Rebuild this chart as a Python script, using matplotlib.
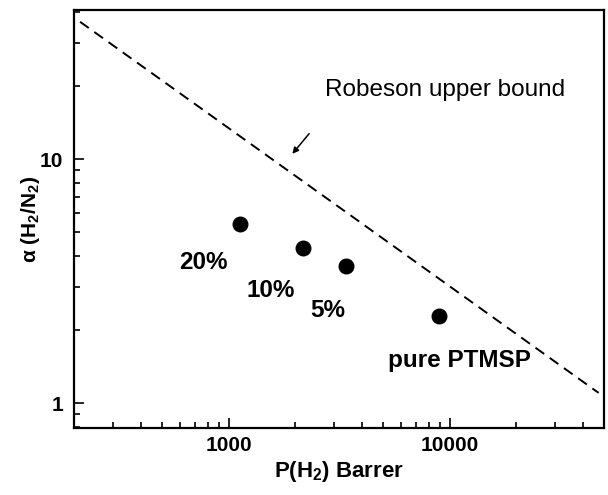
import numpy as np
import matplotlib
matplotlib.use("Agg")
import matplotlib.pyplot as plt
from matplotlib.ticker import LogLocator, FixedLocator, NullFormatter

plt.rcParams['font.family'] = ['Liberation Sans', 'DejaVu Sans']
plt.rcParams['mathtext.fontset'] = 'custom'
plt.rcParams['mathtext.rm'] = 'Liberation Sans:bold'
plt.rcParams['mathtext.it'] = 'Liberation Sans:bold'
plt.rcParams['mathtext.bf'] = 'Liberation Sans:bold'

# membrane data: H2 permeability (Barrer) and H2/N2 selectivity
perm = [1121, 2163, 3385, 8915]
alpha = [5.41, 4.32, 3.64, 2.27]

# point labels and where they sit
labels = ["20%", "10%", "5%", "pure PTMSP"]
label_x = [763, 1549, 2804, 11000]
label_y = [3.75, 2.90, 2.40, 1.50]

# Robeson upper bound, end points
bound_x = [212, 47100]
bound_y = [36.5, 1.10]

fig = plt.figure(figsize=(6.08, 4.95), dpi=100)
ax = fig.add_axes([74/608, 1-428/495, 530/608, 418/495])

ax.plot(bound_x, bound_y, ls=(0, (5.5, 3.5)), c="black", lw=1.4)
ax.scatter(perm, alpha, s=110, c="black", zorder=3)

for t, x, y in zip(labels, label_x, label_y):
    ax.text(x, y, t, ha="center", va="center", fontsize=17.5, fontweight="bold")

ax.text(9487, 19.2, "Robeson upper bound", ha="center", va="center", fontsize=17.5)
ax.annotate("", xy=(1936, 10.5), xytext=(2306, 12.7),
            arrowprops=dict(arrowstyle="-|>", color="black", lw=1.1,
                            mutation_scale=9, shrinkA=0, shrinkB=0))

ax.set_xscale("log")
ax.set_yscale("log")
ax.set_xlim(199, 49800)
ax.set_ylim(0.79, 40.8)

ax.xaxis.set_major_locator(FixedLocator([1000, 10000]))
ax.yaxis.set_major_locator(FixedLocator([1, 10]))
ax.set_xticklabels(["1000", "10000"])
ax.set_yticklabels(["1", "10"])
ax.xaxis.set_minor_locator(LogLocator(base=10, subs=np.arange(2, 10)))
ax.yaxis.set_minor_locator(LogLocator(base=10, subs=np.arange(2, 10)))
ax.xaxis.set_minor_formatter(NullFormatter())
ax.yaxis.set_minor_formatter(NullFormatter())

ax.tick_params(which="both", direction="in", top=False, right=False,
               labelsize=15, width=1.2)
ax.tick_params(which="major", length=7)
ax.tick_params(axis="x", which="major", pad=6)
ax.tick_params(axis="y", which="major", pad=8)
ax.tick_params(which="minor", length=4)
for lab in ax.get_xticklabels() + ax.get_yticklabels():
    lab.set_fontweight("bold")
for s in ax.spines.values():
    s.set_linewidth(1.6)

ax.set_xlabel(r"P(H$_2$) Barrer", fontsize=16, fontweight="bold", labelpad=3)
ax.set_ylabel(r"$\alpha$ (H$_2$/N$_2$)", fontsize=15, fontweight="bold", labelpad=-2)

fig.savefig("out.png", dpi=100)
